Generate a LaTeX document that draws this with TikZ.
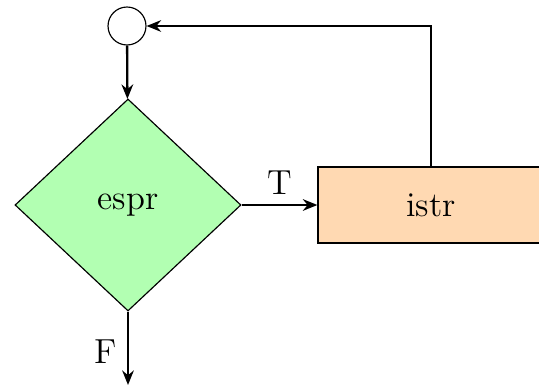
\documentclass[tikz,border=0pt]{standalone}
\usetikzlibrary{shapes.geometric,arrows.meta}
\begin{document}
\begin{tikzpicture}[x=0.345pt,y=-0.345pt,font=\large,
  conn/.style={thick,-{Stealth[length=5pt,width=4pt]}},
  decis/.style={diamond,draw,fill=green!30,inner sep=0pt,minimum width=77.97pt,minimum height=73.14pt},
  instr/.style={rectangle,draw,fill=orange!30,minimum width=78pt,minimum height=26.2pt,inner sep=0pt},
  junc/.style={circle,draw,minimum size=13.1pt,inner sep=0pt}]
\useasboundingbox (0,0) rectangle (539,388);
\node[junc] (c) at (127,26) {};
\node[decis] (d) at (128,205) {espr};
\node[instr] (r) at (431,205) {istr};
\coordinate (e) at (128,385);
\coordinate (k) at (431,26);
\draw[conn] (c) -- (d);
\draw[conn] (d.east) -- node[above] {T} (r.west);
\draw[conn] (d.south) -- node[left,pos=0.55] {F} (e);
\draw[conn] (r.north) -- (k) -- (c.east);
\end{tikzpicture}
\end{document}
